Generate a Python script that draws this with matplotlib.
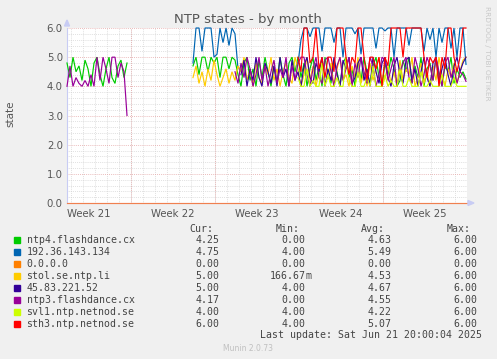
import numpy as np
import matplotlib
matplotlib.use("Agg")
from matplotlib import pyplot as plt
from matplotlib.patches import Rectangle

# time axis in days from the left edge of the graph, 12 px per day
span_days = 33.333
week_bounds = [5.333, 12.333, 19.333, 26.333]
week_labels = ["Week 21", "Week 22", "Week 23", "Week 24", "Week 25"]
week_label_pos = [1.833, 8.833, 15.833, 22.833, 29.833]
step = 0.25

# ---- series (start day, values every 6 hours) ----
green_a_t0 = 0.0
green_a = [4.8, 4.3, 5.0, 4.5, 4.7, 4.2, 4.9, 4.6, 4.0, 4.8, 5.0, 4.4, 4.0, 4.6, 5.0, 4.3, 4.1, 4.7, 4.9, 4.3, 4.8]
green_b_t0 = 10.5
green_b = [4.7, 5.0, 4.4, 5.0, 5.0, 4.5, 5.0, 4.8, 5.0, 4.3, 5.0, 5.0, 4.6, 5.0, 4.9, 4.4,
           4.0, 4.8, 5.0, 4.2, 4.6, 4.0, 4.9, 4.3, 5.0, 4.5, 4.0, 4.7, 4.1, 5.0, 4.4, 4.0, 4.8, 5.0, 4.5,
           5.0, 4.3, 4.8, 4.0, 4.6, 5.0, 4.2, 4.7, 4.0, 5.0, 4.4, 4.1, 4.9, 4.5, 4.0, 4.8, 5.0, 4.3, 4.6, 4.0,
           4.9, 4.2, 5.0, 4.5, 4.1, 4.7, 5.0, 4.3, 4.0, 4.8, 4.4, 5.0, 4.6, 4.0, 4.2, 4.9, 4.5, 5.0, 4.1, 4.7,
           4.3, 5.0, 4.0, 4.6, 4.8, 4.2, 5.0, 4.4, 4.0, 4.7, 4.5, 5.0, 4.1, 4.6, 4.3, 4.5, 4.25]

blue_b1_t0 = 10.5
blue_b1 = [4.8, 6.0, 6.0, 5.2, 6.0, 6.0, 6.0, 5.0, 5.1, 6.0, 5.5, 6.0, 5.4, 6.0, 5.8, 4.6]
blue_b2_t0 = 19.25
blue_b2 = [4.8, 5.6, 6.0, 6.0, 5.7, 6.0, 6.0, 6.0, 5.2, 6.0, 6.0, 6.0, 5.5, 6.0, 6.0, 5.0, 6.0, 6.0, 6.0, 5.8,
           6.0, 5.1, 6.0, 6.0, 6.0, 6.0, 5.3, 6.0, 6.0, 5.9, 6.0, 6.0, 5.0, 6.0, 6.0, 6.0, 6.0, 5.4, 6.0, 6.0,
           6.0, 6.0, 5.2, 6.0, 5.6, 6.0, 5.0, 6.0, 5.5, 6.0, 6.0, 5.3, 6.0, 5.0, 6.0, 6.0, 4.75]

orange_t0 = 0.0
orange = [0.0, 0.0, 0.0, 0.0, 0.0, 0.0, 0.0, 0.0, 0.0, 0.0, 0.0, 0.0, 0.0, 0.0, 0.0, 0.0, 0.0]  # every ~2 days
orange_step = 2.0833

yellow_t0 = 10.5
yellow = [4.3, 4.7, 4.1, 4.5, 4.0, 4.6, 4.2, 4.9, 4.4, 4.0, 4.3, 4.6, 4.1, 4.5, 4.2, 4.7,
          4.5, 5.0, 4.2, 4.6, 4.0, 4.8, 4.3, 4.1, 4.7, 4.4, 5.0, 4.2, 4.6, 4.0, 4.5, 4.8, 4.3, 4.1, 5.0,
          4.6, 4.0, 4.4, 5.0, 4.2, 4.7, 4.0, 4.5, 4.9, 4.1, 4.3, 4.8, 4.0, 4.6, 5.0, 4.2, 4.4, 4.0, 4.7, 4.3,
          5.0, 4.1, 4.5, 4.0, 4.8, 4.2, 4.6, 5.0, 4.0, 4.3, 4.7, 4.1, 4.5, 4.0, 4.9, 4.2, 4.6, 4.4, 5.0, 4.0,
          4.3, 4.8, 4.1, 4.5, 4.0, 4.7, 4.2, 5.0, 4.4, 4.0, 4.6, 4.3, 4.8, 4.1, 4.5, 4.9, 5.0]

darkpurple_t0 = 14.5
darkpurple = [4.4, 4.9, 4.0, 4.6, 4.2, 5.0, 4.3, 4.0, 4.8, 4.5, 4.1, 4.7, 4.0, 5.0, 4.3, 4.6, 4.0, 4.9, 4.2, 4.5,
              4.0, 4.7, 5.0, 4.3, 4.1, 4.8, 4.5, 5.0, 4.0, 4.6, 4.2, 5.0, 4.4, 4.0, 4.9, 4.6, 5.0, 4.1, 4.3, 4.8,
              5.0, 4.2, 4.6, 4.0, 5.0, 4.5, 4.1, 4.8, 5.0, 4.3, 4.0, 4.7, 5.0, 4.4, 4.1, 4.9, 5.0, 4.2, 4.6, 4.0,
              4.5, 5.0, 4.3, 4.0, 4.8, 5.0, 4.1, 4.6, 5.0, 4.4, 4.0, 4.7, 5.0, 4.5, 4.8, 5.0]

purple_a_t0 = 0.0
purple_a = [4.0, 4.7, 4.0, 4.3, 4.1, 4.0, 4.2, 4.0, 4.4, 4.0, 5.0, 4.2, 5.0, 4.6, 4.1, 5.0, 5.0, 4.3, 4.8, 4.5, 3.0]
purple_b_t0 = 14.0
purple_b = [4.5, 4.1, 4.8, 4.3, 5.0, 4.6, 4.0, 4.4, 5.0, 4.2, 4.7, 4.0, 4.5, 4.9, 4.1, 4.6, 4.3, 5.0, 4.0, 4.7,
            4.2, 4.8, 5.0, 5.0, 4.4, 4.0, 4.6, 5.0, 4.3, 4.1, 4.9, 5.0, 4.5, 4.0, 4.7, 5.0, 4.2, 4.6, 5.0, 4.0,
            4.8, 4.3, 5.0, 4.5, 4.1, 5.0, 4.7, 4.0, 4.4, 5.0, 4.9, 4.2, 4.6, 5.0, 4.0, 4.5, 4.8, 5.0, 4.3, 4.1,
            5.0, 4.6, 4.0, 4.4, 5.0, 4.7, 4.2, 5.0, 4.5, 4.0, 4.8, 5.0, 4.3, 4.6, 4.1, 4.5, 4.4, 4.17]

svl1_t0 = 19.25
svl1 = [4.3, 4.0, 4.0, 4.6, 4.0, 4.2, 4.0, 4.0, 4.8, 4.0, 4.4, 4.0, 4.0, 4.3, 4.0, 4.0, 5.0, 4.2, 4.0, 4.0,
        4.5, 4.0, 4.0, 4.3, 4.0, 4.7, 4.0, 4.0, 4.0, 4.4, 4.0, 4.2, 4.0, 4.0, 4.6, 4.0, 4.0, 4.3, 4.0, 4.0,
        4.0, 4.5, 4.0, 4.0, 4.2, 4.0, 4.0, 4.0, 4.4, 4.0, 4.0, 4.0, 4.3, 4.0, 4.0, 4.0, 4.0]

red_t0 = 19.25
red = [5.0, 4.5, 6.0, 6.0, 4.8, 5.0, 6.0, 4.6, 5.0, 4.3, 5.0, 5.0, 4.5, 6.0, 6.0, 6.0, 5.0, 4.4, 5.0, 4.8,
       6.0, 6.0, 5.0, 4.2, 5.0, 5.0, 4.6, 5.0, 4.0, 5.0, 4.7, 6.0, 6.0, 6.0, 6.0, 5.0, 6.0, 6.0, 6.0, 6.0,
       6.0, 6.0, 5.0, 4.3, 5.0, 4.8, 5.0, 4.0, 5.0, 4.6, 6.0, 6.0, 5.0, 4.5, 5.0, 6.0, 6.0]

# legend table
names = ["ntp4.flashdance.cx", "192.36.143.134", "0.0.0.0", "stol.se.ntp.li",
         "45.83.221.52", "ntp3.flashdance.cx", "svl1.ntp.netnod.se", "sth3.ntp.netnod.se"]
colors = ["#00cc00", "#0066b3", "#ff8000", "#ffcc00", "#330099", "#990099", "#ccff00", "#ff0000"]
cur = ["4.25", "4.75", "0.00", "5.00", "5.00", "4.17", "4.00", "6.00"]
mins = ["0.00", "4.00", "0.00", "166.67m", "4.00", "0.00", "4.00", "4.00"]
avgs = ["4.63", "5.49", "0.00", "4.53", "4.67", "4.55", "4.22", "5.07"]
maxs = ["6.00", "6.00", "0.00", "6.00", "6.00", "6.00", "6.00", "6.00"]

W, H = 497, 359
def fx(px): return px / W
def fy(py): return 1 - py / H

fig = plt.figure(figsize=(W / 100, H / 100), dpi=100, facecolor="#f0f0f0")
ax = fig.add_axes([fx(67), fy(203), 400 / W, 175 / H])
ax.set_facecolor("white")
ax.set_xlim(0, span_days)
ax.set_ylim(0, 6)

# grid, rrdtool style dotted lines
dots = (0, (1, 1.5))
for y in np.arange(0.2, 6.01, 0.2):
    if abs(y - round(y)) > 0.01:
        ax.axhline(y, color="#d0d0d0", lw=0.55, ls=dots, zorder=1)
day = week_bounds[0] % 1.0
while day < span_days:
    ax.axvline(day, color="#d0d0d0", lw=0.55, ls=dots, zorder=1)
    day += 1.0
for y in range(1, 7):
    ax.axhline(y, color="#e4a4a4", lw=0.6, ls=dots, zorder=1.5)
for wb in week_bounds:
    ax.axvline(wb, color="#e4a4a4", lw=0.6, ls=dots, zorder=1.5)

def plot_series(t0, vals, color, st=step):
    t = t0 + st * np.arange(len(vals))
    ax.plot(t, vals, color=color, lw=0.85, zorder=3, clip_on=False, solid_joinstyle="miter")

plot_series(green_a_t0, green_a, colors[0])
plot_series(green_b_t0, green_b, colors[0])
plot_series(blue_b1_t0, blue_b1, colors[1])
plot_series(blue_b2_t0, blue_b2, colors[1])
plot_series(orange_t0, orange, "#f08050", orange_step)
plot_series(yellow_t0, yellow, colors[3])
plot_series(darkpurple_t0, darkpurple, colors[4])
plot_series(purple_a_t0, purple_a, colors[5])
plot_series(purple_b_t0, purple_b, colors[5])
plot_series(svl1_t0, svl1, colors[6])
plot_series(red_t0, red, colors[7])

for s in ["top", "right", "bottom"]:
    ax.spines[s].set_visible(False)
ax.spines["left"].set_color("#c8ccf4")
ax.spines["left"].set_linewidth(0.8)

ax.set_yticks(range(0, 7))
ax.set_yticklabels([f"{v:.1f}" for v in range(0, 7)])
ax.set_xticks(week_label_pos)
ax.set_xticklabels(week_labels)
ax.tick_params(axis="both", length=0, labelsize=7.3, labelcolor="#555555", pad=3)
ax.tick_params(axis="x", pad=4)

# axis arrows
fig.add_artist(plt.Polygon([[fx(64.5), fy(26)], [fx(69.5), fy(26)], [fx(67), fy(20)]],
                           closed=True, color="#c8ccf4", transform=fig.transFigure))
fig.add_artist(plt.Polygon([[fx(468), fy(200.5)], [fx(468), fy(205.5)], [fx(474), fy(203)]],
                           closed=True, color="#c8ccf4", transform=fig.transFigure))

# titles
fig.text(fx(248), fy(19), "NTP states - by month", ha="center", va="center",
         fontsize=9.5, color="#555555")
fig.text(fx(10), fy(114), "state", ha="center", va="center", rotation=90,
         fontsize=7.5, color="#555555")
fig.text(fx(487), fy(53), "RRDTOOL / TOBI OETIKER", ha="center", va="center",
         rotation=270, fontsize=5.3, color="#c8c8c8")

# legend
mono = "DejaVu Sans Mono"
fs = 7.1
tc = "#444444"
col_end = [219.8, 305.5, 391.1, 477.1]
heads = ["Cur:", "Min:", "Avg:", "Max:"]
for hx, hd in zip(col_end, heads):
    fig.text(fx(hx - 6), fy(228.5), hd, ha="right", va="center", family=mono, fontsize=fs, color=tc)
for i, nm in enumerate(names):
    yy = 240 + 12 * i
    fig.add_artist(Rectangle((fx(14), fy(yy + 3)), 6 / W, 6 / H, color=colors[i],
                             transform=fig.transFigure))
    fig.text(fx(26.5), fy(yy), nm, ha="left", va="center", family=mono, fontsize=fs, color=tc)
    for cx, val in zip(col_end, [cur[i], mins[i], avgs[i], maxs[i]]):
        num = val.rstrip("m")
        fig.text(fx(cx), fy(yy), num, ha="right", va="center", family=mono, fontsize=fs, color=tc)
        if val.endswith("m"):
            fig.text(fx(cx), fy(yy), "m", ha="left", va="center", family=mono, fontsize=fs, color=tc)

fig.text(fx(482.5), fy(335.5), "Last update: Sat Jun 21 20:00:04 2025", ha="right", va="center",
         family=mono, fontsize=fs, color=tc)
fig.text(fx(248), fy(348.5), "Munin 2.0.73", ha="center", va="center", fontsize=5.5, color="#c0c0c0")

fig.savefig("out.png", dpi=100, facecolor=fig.get_facecolor())
